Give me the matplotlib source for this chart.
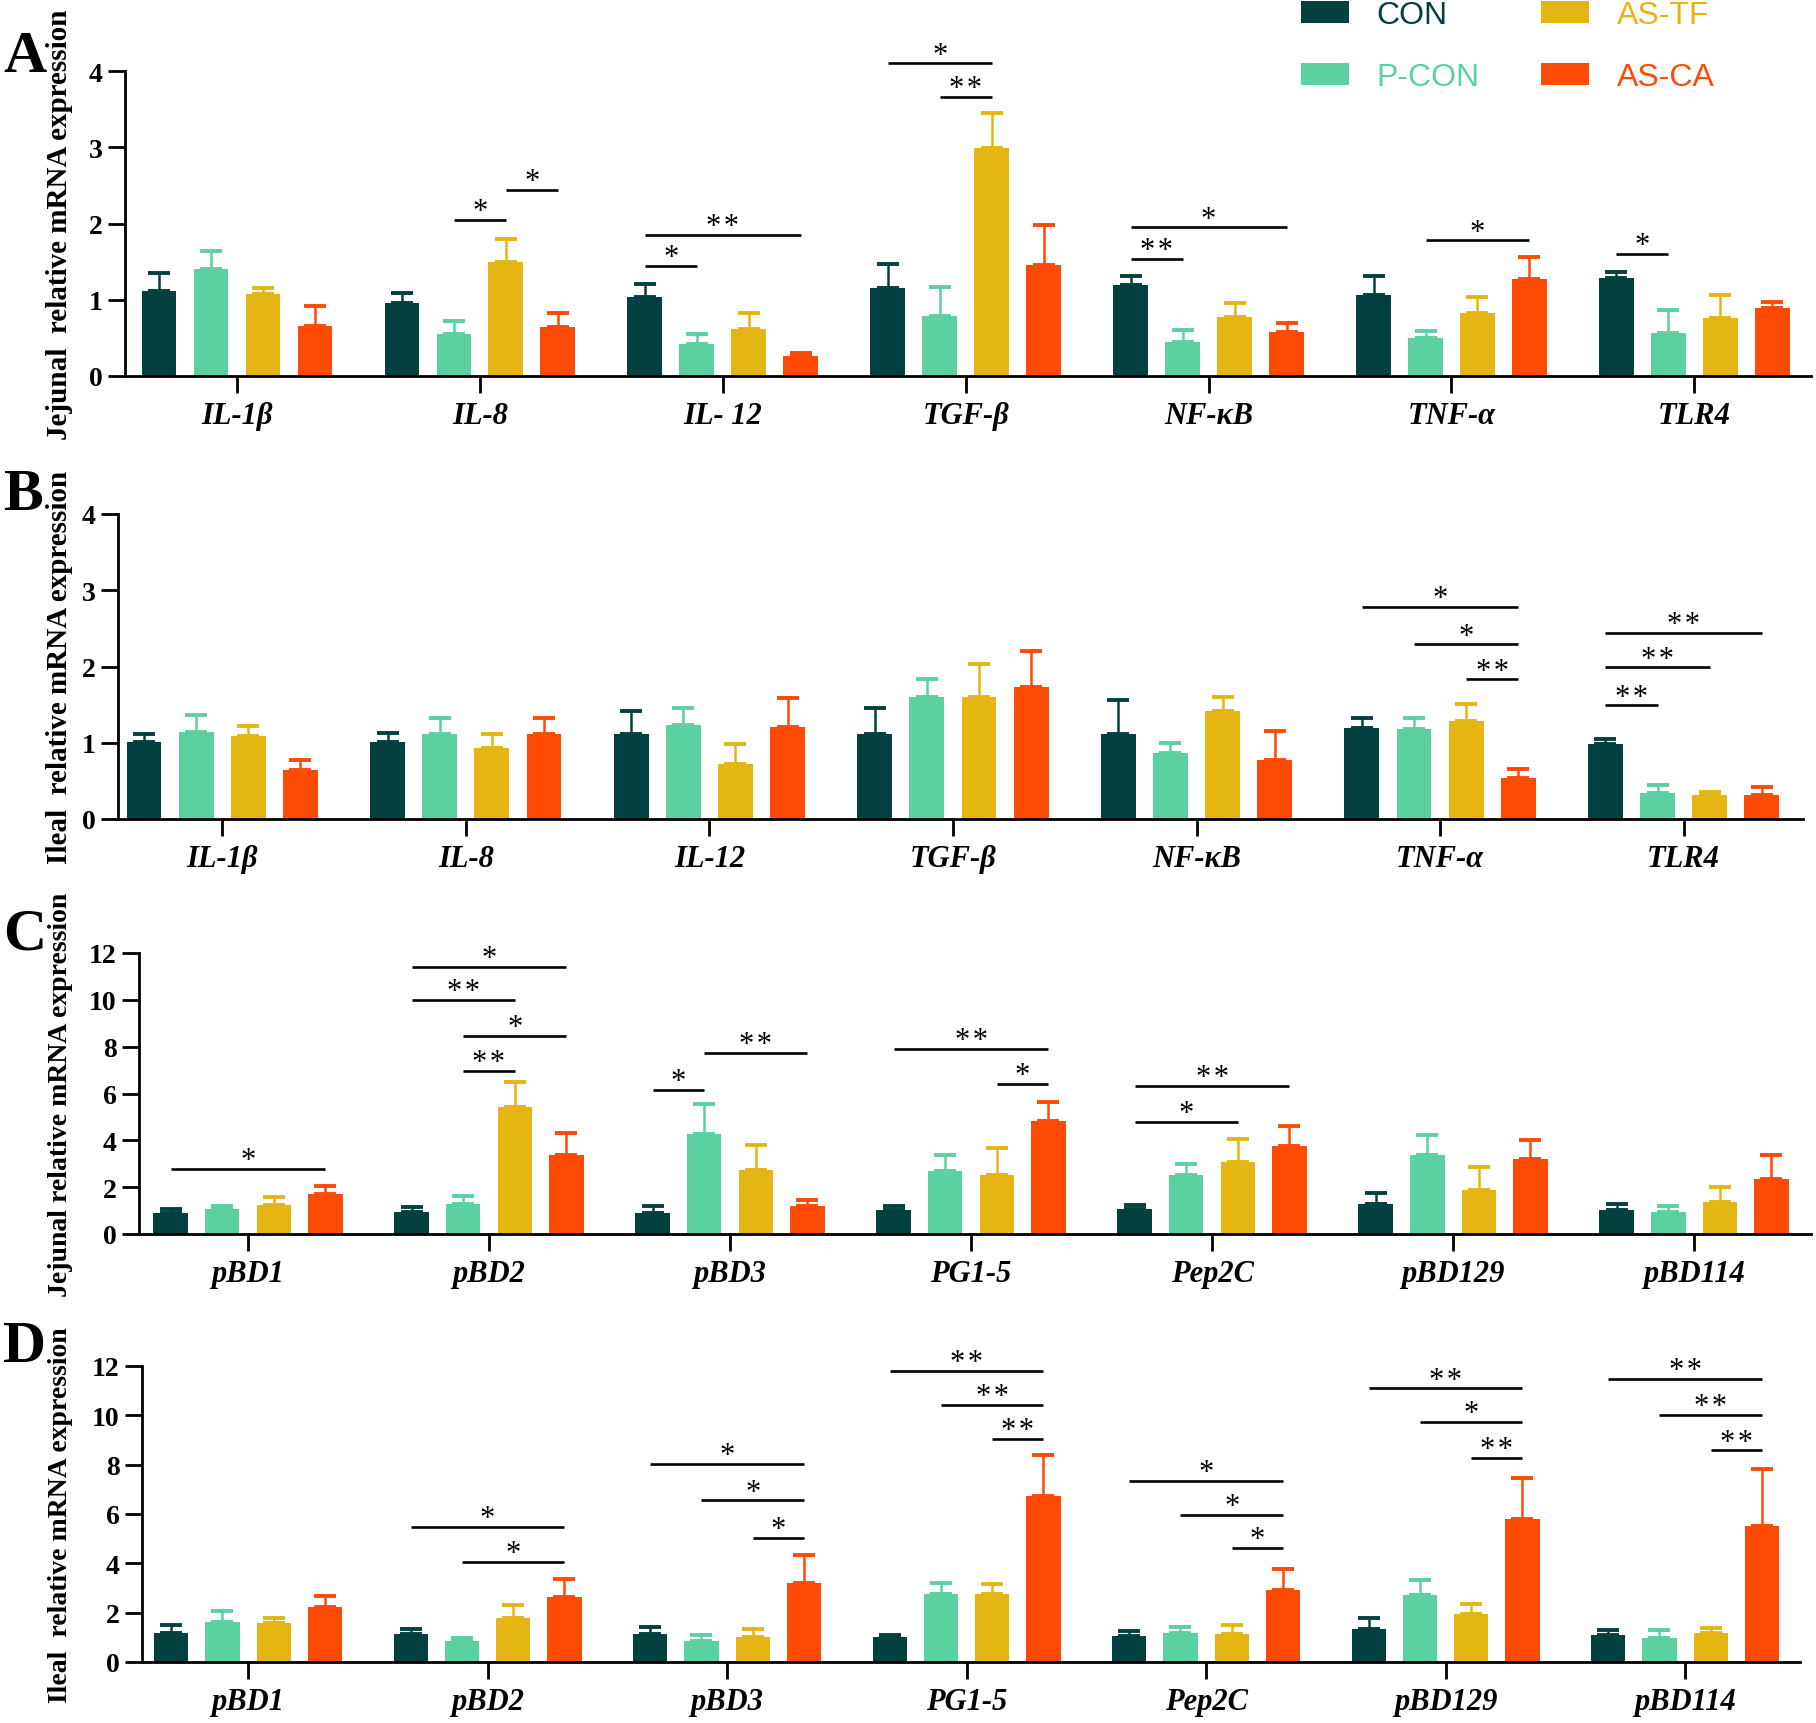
import numpy as np
import matplotlib
matplotlib.use("Agg")
import matplotlib.pyplot as plt

# ---------------- data ----------------
series_names = ["CON", "P-CON", "AS-TF", "AS-CA"]
series_colors = ["#02413f", "#5bd0a0", "#e5b613", "#fd4b05"]

cyt_genes_A = ["IL-1β", "IL-8", "IL- 12", "TGF-β", "NF-κB", "TNF-α", "TLR4"]
cyt_genes_B = ["IL-1β", "IL-8", "IL-12", "TGF-β", "NF-κB", "TNF-α", "TLR4"]
hdp_genes = ["pBD1", "pBD2", "pBD3", "PG1-5", "Pep2C", "pBD129", "pBD114"]

# Panel A: jejunal cytokines (mean, SEM) per group CON, P-CON, AS-TF, AS-CA
A_CON = [1.11, 0.96, 1.03, 1.16, 1.19, 1.06, 1.28]
A_PCON = [1.40, 0.55, 0.42, 0.79, 0.45, 0.50, 0.57]
A_ASTF = [1.08, 1.49, 0.61, 2.99, 0.78, 0.82, 0.76]
A_ASCA = [0.66, 0.64, 0.26, 1.46, 0.58, 1.27, 0.89]
A_CON_sem = [0.24, 0.125, 0.18, 0.31, 0.12, 0.25, 0.08]
A_PCON_sem = [0.24, 0.17, 0.13, 0.38, 0.15, 0.09, 0.30]
A_ASTF_sem = [0.08, 0.31, 0.22, 0.46, 0.18, 0.22, 0.30]
A_ASCA_sem = [0.26, 0.18, 0.04, 0.52, 0.12, 0.285, 0.085]

# Panel B: ileal cytokines
B_CON = [1.005, 1.005, 1.12, 1.12, 1.12, 1.19, 0.99]
B_PCON = [1.14, 1.11, 1.23, 1.60, 0.86, 1.185, 0.34]
B_ASTF = [1.09, 0.93, 0.72, 1.60, 1.41, 1.29, 0.31]
B_ASCA = [0.64, 1.12, 1.21, 1.73, 0.78, 0.54, 0.315]
B_CON_sem = [0.11, 0.125, 0.30, 0.34, 0.44, 0.14, 0.06]
B_PCON_sem = [0.23, 0.22, 0.22, 0.24, 0.14, 0.145, 0.10]
B_ASTF_sem = [0.13, 0.18, 0.26, 0.43, 0.19, 0.22, 0.05]
B_ASCA_sem = [0.14, 0.20, 0.38, 0.47, 0.38, 0.12, 0.10]

# Panel C: jejunal host defence peptides
C_CON = [0.91, 0.94, 0.91, 1.04, 1.05, 1.28, 1.04]
C_PCON = [1.08, 1.28, 4.29, 2.67, 2.50, 3.38, 0.94]
C_ASTF = [1.25, 5.42, 2.72, 2.53, 3.06, 1.89, 1.36]
C_ASCA = [1.71, 3.38, 1.18, 4.82, 3.77, 3.20, 2.36]
C_CON_sem = [0.14, 0.23, 0.28, 0.14, 0.20, 0.46, 0.24]
C_PCON_sem = [0.11, 0.36, 1.27, 0.69, 0.50, 0.84, 0.24]
C_ASTF_sem = [0.31, 1.06, 1.06, 1.14, 0.99, 0.97, 0.64]
C_ASCA_sem = [0.35, 0.94, 0.26, 0.81, 0.85, 0.82, 1.00]

# Panel D: ileal host defence peptides
D_CON = [1.19, 1.15, 1.12, 1.01, 1.05, 1.32, 1.08]
D_PCON = [1.62, 0.85, 0.86, 2.77, 1.19, 2.72, 0.97]
D_ASTF = [1.59, 1.78, 1.01, 2.77, 1.14, 1.93, 1.18]
D_ASCA = [2.23, 2.64, 3.19, 6.72, 2.92, 5.81, 5.51]
D_CON_sem = [0.30, 0.20, 0.29, 0.10, 0.19, 0.45, 0.20]
D_PCON_sem = [0.45, 0.14, 0.22, 0.45, 0.23, 0.62, 0.33]
D_ASTF_sem = [0.19, 0.52, 0.31, 0.38, 0.37, 0.41, 0.20]
D_ASCA_sem = [0.45, 0.71, 1.13, 1.69, 0.86, 1.66, 2.33]

# significance: (gene index, group i, group j, bar height, label)
A_sig = [(1, 1, 2, 2.05, "*"), (1, 2, 3, 2.44, "*"), (2, 0, 3, 1.85, "**"),
         (2, 0, 1, 1.44, "*"), (3, 0, 2, 4.10, "*"), (3, 1, 2, 3.66, "**"),
         (4, 0, 3, 1.95, "*"), (4, 0, 1, 1.54, "**"), (5, 1, 3, 1.78, "*"),
         (6, 0, 1, 1.60, "*")]
B_sig = [(5, 0, 3, 2.78, "*"), (5, 1, 3, 2.29, "*"), (5, 2, 3, 1.83, "**"),
         (6, 0, 3, 2.44, "**"), (6, 0, 2, 1.99, "**"), (6, 0, 1, 1.49, "**")]
C_sig = [(0, 0, 3, 2.79, "*"), (1, 0, 3, 11.40, "*"), (1, 0, 2, 10.01, "**"),
         (1, 1, 3, 8.45, "*"), (1, 1, 2, 6.98, "**"), (2, 0, 1, 6.14, "*"),
         (2, 1, 3, 7.75, "**"), (3, 0, 3, 7.89, "**"), (3, 2, 3, 6.41, "*"),
         (4, 0, 3, 6.34, "**"), (4, 0, 2, 4.79, "*")]
D_sig = [(1, 0, 3, 5.47, "*"), (1, 1, 3, 4.05, "*"), (2, 0, 3, 8.04, "*"),
         (2, 1, 3, 6.55, "*"), (2, 2, 3, 5.03, "*"), (3, 0, 3, 11.80, "**"),
         (3, 1, 3, 10.41, "**"), (3, 2, 3, 9.05, "**"), (4, 0, 3, 7.35, "*"),
         (4, 1, 3, 5.97, "*"), (4, 2, 3, 4.62, "*"), (5, 0, 3, 11.09, "**"),
         (5, 1, 3, 9.72, "*"), (5, 2, 3, 8.27, "**"), (6, 0, 3, 11.49, "**"),
         (6, 1, 3, 10.03, "**"), (6, 2, 3, 8.58, "**")]

# ---------------- figure ----------------
W, H = 1816, 1724
fig = plt.figure(figsize=(W / 100, H / 100), dpi=100)
SERIF = ["Liberation Serif", "DejaVu Serif"]
SANS = ["Liberation Sans", "DejaVu Sans"]

bar_w = 0.143
step = 0.214
offsets = [-1.5 * step, -0.5 * step, 0.5 * step, 1.5 * step]


def px_axes(l, r, top, bot):
    return [l / W, 1 - bot / H, (r - l) / W, (bot - top) / H]


panels = [
    dict(rect=px_axes(124.5, 1811, 72, 377), genes=cyt_genes_A,
         means=[A_CON, A_PCON, A_ASTF, A_ASCA],
         sems=[A_CON_sem, A_PCON_sem, A_ASTF_sem, A_ASCA_sem],
         sig=A_sig, ymax=4, ystep=1, letter="A", lbase=72, ylsize=21,
         ylabel="Jejunal  relative mRNA expression", xlim=(-0.463, 6.48)),
    dict(rect=px_axes(117.5, 1803, 515, 820), genes=cyt_genes_B,
         means=[B_CON, B_PCON, B_ASTF, B_ASCA],
         sems=[B_CON_sem, B_PCON_sem, B_ASTF_sem, B_ASCA_sem],
         sig=B_sig, ymax=4, ystep=1, letter="B", lbase=510, ylsize=21,
         ylabel="Ileal  relative mRNA expression", xlim=(-0.43, 6.49)),
    dict(rect=px_axes(139, 1811, 954, 1235), genes=hdp_genes,
         means=[C_CON, C_PCON, C_ASTF, C_ASCA],
         sems=[C_CON_sem, C_PCON_sem, C_ASTF_sem, C_ASCA_sem],
         sig=C_sig, ymax=12, ystep=2, letter="C", lbase=950, ylsize=20,
         ylabel="Jejunal relative mRNA expression", xlim=(-0.452, 6.485)),
    dict(rect=px_axes(142, 1800, 1367, 1663), genes=hdp_genes,
         means=[D_CON, D_PCON, D_ASTF, D_ASCA],
         sems=[D_CON_sem, D_PCON_sem, D_ASTF_sem, D_ASCA_sem],
         sig=D_sig, ymax=12, ystep=2, letter="D", lbase=1362, ylsize=20,
         ylabel="Ileal  relative mRNA expression", xlim=(-0.443, 6.48)),
]

handles = None
for p in panels:
    ax = fig.add_axes(p["rect"])
    x = np.arange(len(p["genes"]))
    hs = []
    for k in range(4):
        m = np.array(p["means"][k])
        s = np.array(p["sems"][k])
        xb = x + offsets[k]
        b = ax.bar(xb, m, width=bar_w, color=series_colors[k], zorder=2,
                   label=series_names[k])
        ax.errorbar(xb, m, yerr=[np.zeros_like(s), s], fmt="none",
                    ecolor=series_colors[k], elinewidth=1.8, capsize=8,
                    capthick=2.8, zorder=1, clip_on=False)
        hs.append(b)
    if handles is None:
        handles = hs
    # significance lines
    for g, i, j, yv, lab in p["sig"]:
        x1 = g + offsets[i]
        x2 = g + offsets[j]
        ax.plot([x1, x2], [yv, yv], color="black", lw=1.9, clip_on=False,
                zorder=3, solid_capstyle="butt")
        ax.annotate(lab.replace("**", "*\u200a*"), xy=((x1 + x2) / 2, yv),
                    xytext=(0, -4.5), textcoords="offset points",
                    ha="center", va="bottom", fontsize=22, family=SERIF,
                    annotation_clip=False)
    ax.set_xlim(*p["xlim"])
    ax.set_ylim(0, p["ymax"])
    yt = np.arange(0, p["ymax"] + 0.1, p["ystep"])
    ax.set_yticks(yt)
    ax.set_yticklabels([str(int(v)) for v in yt],
                       fontsize=20, fontweight="bold", family=SERIF)
    ax.set_xticks(x)
    ax.set_xticklabels(p["genes"], fontsize=22, fontweight="bold",
                       fontstyle="italic", family=SERIF)
    for sp in ["top", "right"]:
        ax.spines[sp].set_visible(False)
    for sp in ["left", "bottom"]:
        ax.spines[sp].set_linewidth(2.0)
    ax.tick_params(axis="both", direction="out", length=12, width=2.0)
    ax.tick_params(axis="y", pad=4)
    ax.tick_params(axis="x", pad=6)
    ax.set_ylabel(p["ylabel"], fontsize=p["ylsize"], fontweight="bold",
                  family=SERIF)
    l = p["rect"][0] * W
    ax.yaxis.set_label_coords((73 - l) / (p["rect"][2] * W), 0.5)
    fig.text(3 / W, 1 - p["lbase"] / H, p["letter"], ha="left", va="baseline",
             fontsize=43, fontweight="bold", family=SERIF)

leg = fig.legend(handles, series_names, ncol=2, loc="upper left",
                 bbox_to_anchor=(1301 / W, 1 - 1 / H), frameon=False,
                 prop=dict(family=SANS, size=23), handlelength=1.5,
                 handleheight=0.69, handletextpad=0.85, columnspacing=1.95,
                 labelspacing=1.0, borderpad=0, borderaxespad=0)
for t, c in zip(leg.get_texts(), series_colors):
    t.set_color(c)

fig.savefig("out.png", dpi=100)
